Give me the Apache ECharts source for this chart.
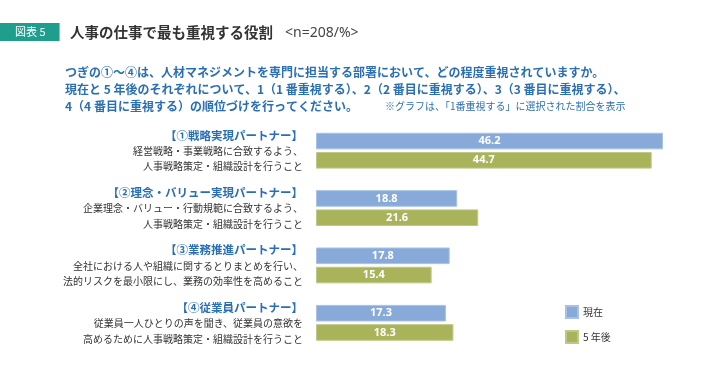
<!DOCTYPE html>
<html><head><meta charset="utf-8">
<script src="https://cdn.jsdelivr.net/npm/echarts@6/dist/echarts.min.js"></script>
<style>html,body{margin:0;padding:0;background:#fff}#c{width:728px;height:378px}</style>
</head><body><div id="c"></div>
<script>
const roleTitles = ['【①戦略実現パートナー】','【②理念・バリュー実現パートナー】','【③業務推進パートナー】','【④従業員パートナー】'];
const roleDesc1 = ['経営戦略・事業戦略に合致するよう、','企業理念・バリュー・行動規範に合致するよう、','全社における人や組織に関するとりまとめを行い、','従業員一人ひとりの声を聞き、従業員の意欲を'];
const roleDesc2 = ['人事戦略策定・組織設計を行うこと','人事戦略策定・組織設計を行うこと','法的リスクを最小限にし、業務の効率性を高めること','高めるために人事戦略策定・組織設計を行うこと'];
const seriesNames = ['現在','5 年後'];
const nowValues = [46.2, 18.8, 17.8, 17.3];
const futureValues = [44.7, 21.6, 15.4, 18.3];

const FONT = '"Noto Sans CJK JP", "Noto Sans", sans-serif';
const categories = roleTitles.map((t,i)=>'{t|'+t+'}\n{d|'+roleDesc1[i]+'}\n{e|'+roleDesc2[i]+'}');

const chart = echarts.init(document.getElementById('c'), null, {renderer:'canvas'});
const labelStyle = {show:true, position:'inside', color:'#fff', fontWeight:'bold', fontSize:11, fontFamily:'"Noto Sans", sans-serif', formatter: p => p.value.toFixed(1)};
chart.setOption({
  backgroundColor:'#fff',
  animation:false,
  textStyle:{fontFamily:FONT},
  title:[
    {text:'図表 5', left:0, top:23, backgroundColor:'#1f9e8e', padding:[3,14,3,15],
     textStyle:{color:'#fff', fontSize:11, fontWeight:'normal', lineHeight:12, fontFamily:FONT}},
    {text:'人事の仕事で最も重視する役割', left:70, top:23, padding:0,
     textStyle:{fontSize:14.5, fontWeight:'bold', color:'#333', fontFamily:FONT, lineHeight:18}},
    {text:'<n=208/%>', left:285, top:24, padding:0,
     textStyle:{fontSize:14, fontWeight:'normal', color:'#444', fontFamily:'"Noto Sans", sans-serif', lineHeight:18}},
    {text:'つぎの①～④は、人材マネジメントを専門に担当する部署において、どの程度重視されていますか。\n現在と 5 年後のそれぞれについて、1（1 番重視する）、2（2 番目に重視する）、3（3 番目に重視する）、\n4（4 番目に重視する）の順位づけを行ってください。',
     left:65, top:64, padding:0,
     textStyle:{fontSize:12, fontWeight:'bold', color:'#2a6fb6', lineHeight:17, fontFamily:FONT}},
    {text:'※グラフは、「1番重視する」に選択された割合を表示', left:385, top:101, padding:0,
     textStyle:{fontSize:10, fontWeight:'normal', color:'#2a6fb6', fontFamily:FONT}}
  ],
  legend:{orient:'vertical', left:565, top:305, padding:0, itemWidth:12, itemHeight:12, itemGap:11,
    icon:'rect', data:seriesNames, textStyle:{fontSize:10, color:'#333', fontFamily:FONT}},
  grid:{left:316, right:36.5, top:122, bottom:26.5, containLabel:false},
  xAxis:{type:'value', min:0, max:50, show:false},
  yAxis:{type:'category', inverse:true, data:categories,
    axisLine:{show:false}, axisTick:{show:false}, splitLine:{show:false},
    axisLabel:{margin:13, align:'right', rich:{
      t:{fontSize:11.5, fontWeight:'bold', color:'#2a6fb6', lineHeight:18, fontFamily:FONT, align:'right'},
      d:{fontSize:10, color:'#333', lineHeight:14, fontFamily:FONT, align:'right'},
      e:{fontSize:10, color:'#333', lineHeight:17, fontFamily:FONT, align:'right'}}}},
  series:[
    {name:seriesNames[0], type:'bar', data:nowValues, barWidth:16.6, barGap:'16%',
     itemStyle:{color:'#88aad8', borderColor:'#a9c1e4', borderWidth:1}, label:labelStyle},
    {name:seriesNames[1], type:'bar', data:futureValues, barWidth:16.6, barGap:'16%',
     itemStyle:{color:'#a9b35a', borderColor:'#c0c886', borderWidth:1}, label:labelStyle}
  ]
});
</script></body></html>
